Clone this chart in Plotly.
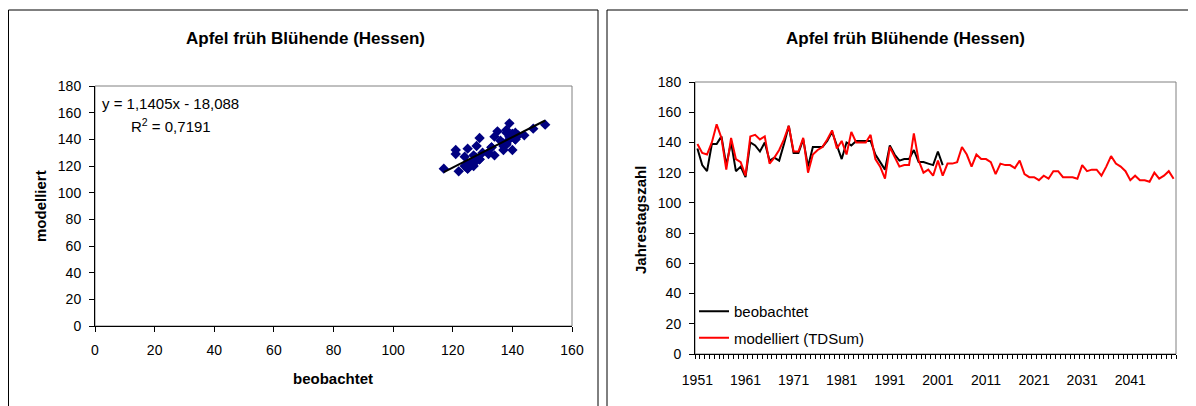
import plotly.graph_objects as go

# Apfel frueh Bluehende (Hessen): observed vs. modelled flowering day
years_obs = list(range(1951, 2003))
beobachtet = [136, 125, 121, 139, 139, 144, 125, 140, 121, 124,
              117, 140, 138, 134, 140, 128, 130, 128, 139, 151,
              133, 133, 142, 124, 137, 137, 137, 141, 147, 138,
              129, 140, 138, 141, 141, 141, 141, 132, 127, 122,
              138, 132, 128, 129, 129, 135, 127, 127, 126, 125,
              134, 125]

years_mod = list(range(1951, 2051))
modelliert = [139, 133, 132, 140, 152, 143, 122, 143, 129, 127,
              118, 144, 145, 142, 144, 126, 130, 135, 142, 151,
              134, 134, 143, 120, 132, 135, 137, 142, 148, 136,
              141, 132, 147, 140, 140, 140, 145, 129, 124, 116,
              137, 130, 124, 125, 125, 146, 128, 120, 122, 118,
              128, 118, 126, 126, 127, 137, 132, 124, 132, 129,
              129, 127, 119, 126, 125, 125, 123, 128, 119, 117,
              117, 115, 118, 116, 121, 121, 117, 117, 117, 116,
              125, 121, 122, 122, 118, 124, 131, 126, 124, 121,
              115, 118, 115, 115, 114, 120, 116, 118, 121, 116]

label_years = list(range(1951, 2051, 10))
label_text = [str(y) for y in label_years]

slope = 1.1405
intercept = -18.088
eq_text = 'y = 1,1405x - 18,088'
r2_text = 'R<sup>2</sup> = 0,7191'
title = 'Apfel früh Blühende (Hessen)'

W, H = 1196, 406
OFF = 8   # page body margin of the html file
FONT = 'Arial, Liberation Sans, sans-serif'

def px(x): return (x - OFF) / W
def py(y): return 1 - (y - OFF) / H

# model values paired with the observed years
mod_paired = modelliert[:len(beobachtet)]
x_tr = [min(beobachtet), max(beobachtet)]
y_tr = [slope * v + intercept for v in x_tr]

fig = go.Figure()
fig.add_trace(go.Scatter(x=beobachtet, y=mod_paired, mode='markers',
                         marker=dict(symbol='diamond', size=8, color='#000080'),
                         xaxis='x', yaxis='y', showlegend=False))
fig.add_trace(go.Scatter(x=x_tr, y=y_tr, mode='lines',
                         line=dict(color='black', width=2),
                         xaxis='x', yaxis='y', showlegend=False))
fig.add_trace(go.Scatter(x=years_obs, y=beobachtet, mode='lines', name='beobachtet',
                         line=dict(color='black', width=2), legendgroup='a',
                         xaxis='x2', yaxis='y2'))
fig.add_trace(go.Scatter(x=years_mod, y=modelliert, mode='lines', name='modelliert (TDSum)',
                         line=dict(color='#ff0000', width=2), legendgroup='b',
                         xaxis='x2', yaxis='y2'))

ax = dict(showline=True, linecolor='black', linewidth=1, showgrid=False, zeroline=False,
          automargin=False, ticks='outside', ticklen=5, tickcolor='black',
          tickfont=dict(size=14, color='black'))

fig.update_layout(
    width=W, height=H,
    margin=dict(l=0, r=0, t=0, b=0, autoexpand=False),
    paper_bgcolor='white', plot_bgcolor='white',
    font=dict(family=FONT, size=14, color='black'),
    xaxis=dict(ax, domain=[px(95), px(572)], range=[0, 160], dtick=20, anchor='y',
               ticklabelstandoff=6),
    yaxis=dict(ax, domain=[py(326), py(86)], range=[0, 180], dtick=20, anchor='x',
               ticklabelstandoff=5),
    xaxis2=dict(ax, domain=[px(695), px(1176)], range=[1950.5, 2050.5], anchor='y2',
                tickmode='array', tickvals=label_years, ticktext=label_text, ticks='',
                ticklabelstandoff=13,
                minor=dict(ticks='outside', tickmode='linear', tick0=1950.5, dtick=1,
                           ticklen=4, tickcolor='black')),
    yaxis2=dict(ax, domain=[py(354), py(82)], range=[0, 180], dtick=20, anchor='x2',
                ticklabelstandoff=5),
    legend=dict(x=px(694), y=py(295), xanchor='left', yanchor='top',
                bgcolor='rgba(0,0,0,0)', font=dict(size=15), tracegroupgap=4,
                itemwidth=30),
)

# plot area frames (grey) and the two chart borders
for xr, yr in [('x domain', 'y domain'), ('x2 domain', 'y2 domain')]:
    fig.add_shape(type='rect', xref=xr, yref=yr, x0=0, x1=1, y0=0, y1=1,
                  line=dict(color='#808080', width=1), layer='below')
for x0, x1 in [(8.5, 598), (607, 1192)]:
    fig.add_shape(type='rect', xref='paper', yref='paper', x0=px(x0), x1=px(x1),
                  y0=-0.2, y1=py(10), line=dict(color='black', width=1))

notes = [
    (305, 39, '<b>' + title + '</b>', 17, 0),
    (905, 39, '<b>' + title + '</b>', 17, 0),
    (333, 378, '<b>beobachtet</b>', 15, 0),
    (41, 206, '<b>modelliert</b>', 15, -90),
    (640, 220, '<b>Jahrestagszahl</b>', 15, -90),
]
for x, y, t, s, a in notes:
    fig.add_annotation(x=px(x), y=py(y), xref='paper', yref='paper', text=t,
                       showarrow=False, textangle=a, font=dict(size=s),
                       xanchor='center', yanchor='middle')
fig.add_annotation(x=px(100), y=py(103), xref='paper', yref='paper', text=eq_text,
                   showarrow=False, font=dict(size=15), xanchor='left', yanchor='middle')
fig.add_annotation(x=px(129), y=py(126), xref='paper', yref='paper', text=r2_text,
                   showarrow=False, font=dict(size=15), xanchor='left', yanchor='middle')

fig.write_html('out.html')
